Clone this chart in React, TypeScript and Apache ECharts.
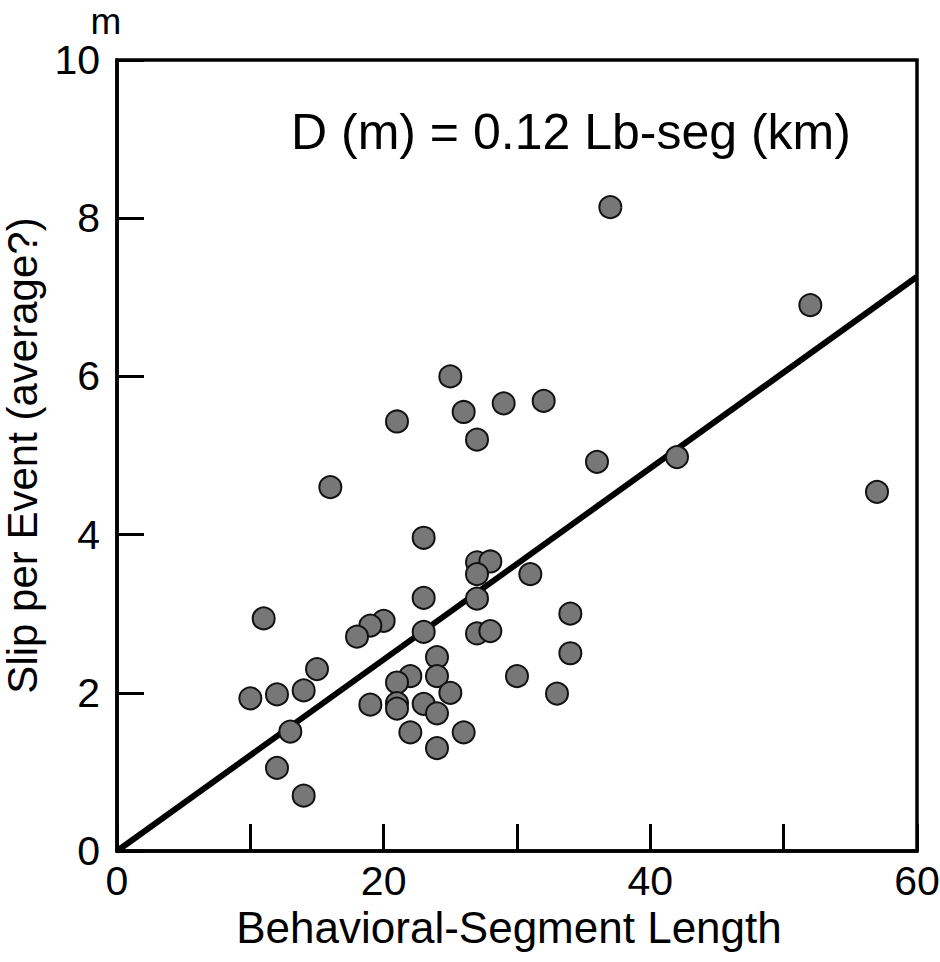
import React, { useEffect, useRef } from "react";
import * as echarts from "echarts";

// Behavioral-segment length (km) and slip per event (m)
const segLength: number[] = [
  37, 52, 57, 42, 36, 25, 26, 29, 32, 21,
  27, 16, 23, 27, 28, 27, 31, 27, 23, 11,
  34, 20, 19, 18, 23, 27, 28, 34, 24, 15,
  22, 21, 24, 30, 25, 14, 12, 10, 33, 19,
  21, 21, 23, 24, 13, 22, 26, 24, 12, 14,
];
const slip: number[] = [
  8.14, 6.9, 4.54, 4.98, 4.92, 6.0, 5.55, 5.66, 5.69, 5.43,
  5.2, 4.6, 3.96, 3.65, 3.66, 3.5, 3.5, 3.19, 3.2, 2.94,
  3.0, 2.91, 2.85, 2.71, 2.77, 2.75, 2.78, 2.5, 2.45, 2.3,
  2.21, 2.13, 2.21, 2.21, 2.0, 2.03, 1.98, 1.93, 1.99, 1.85,
  1.87, 1.8, 1.86, 1.74, 1.51, 1.5, 1.5, 1.3, 1.05, 0.7,
];
// Fit line D (m) = 0.12 Lb-seg (km), endpoints
const fitX: number[] = [0, 60];
const fitY: number[] = [0, 7.26];

const xTickLabels: number[] = [0, 20, 40, 60];

const FONT = "'Liberation Sans', Arial, Helvetica, sans-serif";

export default function App() {
  const ref = useRef<HTMLDivElement>(null);
  useEffect(() => {
    if (!ref.current) return;
    const chart = echarts.init(ref.current, null, { renderer: "svg" });
    const pts = segLength.map((x, i) => [x, slip[i]]);
    const line = fitX.map((x, i) => [x, fitY[i]]);
    chart.setOption({
      animation: false,
      backgroundColor: "#ffffff",
      textStyle: { fontFamily: FONT, color: "#000" },
      grid: {
        left: 117,
        right: 23,
        top: 60,
        bottom: 111,
        containLabel: false,
        outerBoundsMode: "none",
        show: true,
        borderColor: "#000",
        borderWidth: 3.5,
        backgroundColor: "transparent",
      },
      xAxis: {
        type: "value",
        min: 0,
        max: 60,
        interval: 10,
        name: "Behavioral-Segment Length",
        nameLocation: "middle",
        nameGap: 54,
        nameTextStyle: { fontSize: 44, fontFamily: FONT, color: "#000", padding: [0, 16, 0, 0] },
        axisLine: { show: true, lineStyle: { color: "#000", width: 3.5 } },
        axisTick: { show: true, inside: true, length: 27, lineStyle: { color: "#000", width: 3 } },
        axisLabel: {
          fontSize: 41,
          fontFamily: FONT,
          color: "#000",
          margin: 9,
          formatter: (v: number) => (xTickLabels.includes(v) ? String(v) : ""),
        },
        splitLine: { show: false },
      },
      yAxis: {
        type: "value",
        min: 0,
        max: 10,
        interval: 2,
        name: "Slip per Event (average?)",
        nameLocation: "middle",
        nameGap: 72,
        nameTextStyle: { fontSize: 42, fontFamily: FONT, color: "#000" },
        axisLine: { show: true, lineStyle: { color: "#000", width: 3.5 } },
        axisTick: { show: true, inside: true, length: 27, lineStyle: { color: "#000", width: 3 } },
        axisLabel: { fontSize: 41, fontFamily: FONT, color: "#000", margin: 17 },
        splitLine: { show: false },
      },
      graphic: [
        {
          type: "text",
          left: 291,
          top: 107,
          style: {
            text: "D (m) = 0.12 Lb-seg (km)",
            font: `50px ${FONT}`,
            fill: "#000",
          },
        },
        {
          type: "text",
          x: 106,
          y: 3,
          style: {
            text: "m",
            font: `37px ${FONT}`,
            fill: "#000",
            textAlign: "center",
            textVerticalAlign: "top",
          },
        },
      ],
      series: [
        {
          type: "line",
          data: line,
          showSymbol: false,
          symbol: "none",
          lineStyle: { color: "#000", width: 6 },
          z: 2,
          silent: true,
        },
        {
          type: "scatter",
          data: pts,
          symbol: "circle",
          symbolSize: 22,
          itemStyle: { color: "#777777", borderColor: "#111", borderWidth: 2, opacity: 1 },
          z: 3,
        },
      ],
    });
    return () => chart.dispose();
  }, []);
  return (
    <div
      ref={ref}
      style={{ position: "fixed", left: 0, top: 0, width: 940, height: 962, background: "#fff" }}
    />
  );
}
